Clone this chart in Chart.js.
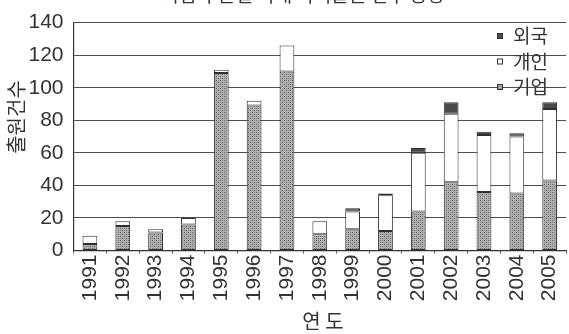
<!DOCTYPE html>
<html lang="ko">
<head>
<meta charset="utf-8">
<title>기업 부문별 국내 특허출원 건수 동향</title>
<script src="https://cdn.jsdelivr.net/npm/chart.js@4/dist/chart.umd.min.js"></script>
<style>
  html, body { margin: 0; padding: 0; overflow: hidden; background: #fff; }
  #wrap { position: absolute; left: 0; top: 0; width: 576px; height: 334px; }
</style>
</head>
<body>
<div id="wrap"><canvas id="c" width="576" height="334"></canvas></div>
<script>
// Filing counts per year, split by applicant type
const years = ['1991','1992','1993','1994','1995','1996','1997','1998','1999','2000','2001','2002','2003','2004','2005'];
const corporate = [4, 15, 11, 16, 109, 89, 110, 10, 13, 12, 24, 42, 36, 35, 43];   // 기업
const individual = [5, 3, 2, 4, 2, 3, 16, 8, 11, 22, 36, 42, 35, 35, 44];         // 개인
const foreign = [0, 0, 0, 0, 0, 0, 0, 0, 2, 1, 3, 7, 2, 2, 4];                     // 외국
const yTicks = [0, 20, 40, 60, 80, 100, 120, 140];

const chartTitle = '기업 부문별 국내 특허출원 건수 동향';
const yTitle = '출원건수';
const xTitle = '연 도';

const NUM_FONT = '"Liberation Sans", Arial, sans-serif';
const KO_FONT = '"Noto Sans CJK KR", "Noto Sans", sans-serif';
const INK = '#333333';

// Fine stippled grey used for the corporate segments
function stipple() {
  const p = document.createElement('canvas');
  p.width = 4; p.height = 4;
  const g = p.getContext('2d');
  g.fillStyle = '#b0b0b0'; g.fillRect(0, 0, 4, 4);
  g.fillStyle = '#666666'; g.fillRect(0, 0, 1, 1); g.fillRect(2, 2, 1, 1);
  g.fillStyle = '#858585'; g.fillRect(2, 0, 1, 1); g.fillRect(0, 2, 1, 1);
  return g.createPattern(p, 'repeat');
}
const corpFill = stipple();

// Title (clipped at the top edge), rotated y title, x title and the inset legend
const overlay = {
  id: 'overlay',
  afterDraw(chart) {
    const ctx = chart.ctx;
    ctx.save();
    ctx.fillStyle = INK;

    ctx.font = '19px ' + KO_FONT;
    ctx.textAlign = 'center';
    ctx.textBaseline = 'alphabetic';
    ctx.fillText(chartTitle, 303, 1.5);

    ctx.save();
    ctx.translate(16, 117);
    ctx.rotate(-Math.PI / 2);
    ctx.font = '20px ' + KO_FONT;
    ctx.textBaseline = 'middle';
    ctx.fillText(yTitle, 0, 0);
    ctx.restore();

    ctx.font = '20px ' + KO_FONT;
    ctx.textBaseline = 'middle';
    ctx.fillText(xTitle, 323, 321);

    const items = chart.data.datasets.slice().reverse();
    ctx.font = '19px ' + KO_FONT;
    ctx.textAlign = 'left';
    items.forEach((ds, i) => {
      const cy = 36 + i * 25.5;
      ctx.fillStyle = ds.backgroundColor;
      ctx.fillRect(497, cy - 3, 6, 6);
      ctx.strokeStyle = INK;
      ctx.lineWidth = 1;
      ctx.strokeRect(497.5, cy - 2.5, 5, 5);
      ctx.fillStyle = INK;
      ctx.fillText(ds.label, 513, cy);
    });
    ctx.restore();
  }
};

const seg = { borderColor: '#2e2e2e', borderWidth: 1, borderSkipped: false,
              barPercentage: 0.45, categoryPercentage: 1.0 };

new Chart(document.getElementById('c'), {
  type: 'bar',
  data: {
    labels: years,
    datasets: [
      Object.assign({ label: '기업', data: corporate, backgroundColor: corpFill }, seg),
      Object.assign({ label: '개인', data: individual, backgroundColor: '#ffffff' }, seg),
      Object.assign({ label: '외국', data: foreign, backgroundColor: '#4a4a4a' }, seg)
    ]
  },
  options: {
    responsive: false,
    animation: false,
    layout: { padding: { left: 0, right: 4, top: 20.5, bottom: 0 } },
    plugins: { legend: { display: false }, title: { display: false }, tooltip: { enabled: false } },
    scales: {
      x: {
        stacked: true,
        afterFit(s) { s.height = 83.5; },
        grid: { display: true, offset: true, drawOnChartArea: false, drawTicks: true,
                tickLength: 3, color: '#555' },
        border: { display: true, color: '#333', width: 1.2 },
        ticks: { minRotation: 90, maxRotation: 90, autoSkip: false, padding: 1,
                 color: INK, font: { family: NUM_FONT, size: 21 } }
      },
      y: {
        stacked: true,
        min: 0, max: 140,
        afterFit(s) { s.width = 73.5; },
        afterBuildTicks(s) { s.ticks = yTicks.map(v => ({ value: v })); },
        grid: { color: '#4d4d4d', lineWidth: 1.1, drawTicks: false },
        border: { display: true, color: '#333', width: 1.2 },
        ticks: { padding: 10, color: INK, font: { family: NUM_FONT, size: 21 } }
      }
    }
  },
  plugins: [overlay]
});
</script>
</body>
</html>
